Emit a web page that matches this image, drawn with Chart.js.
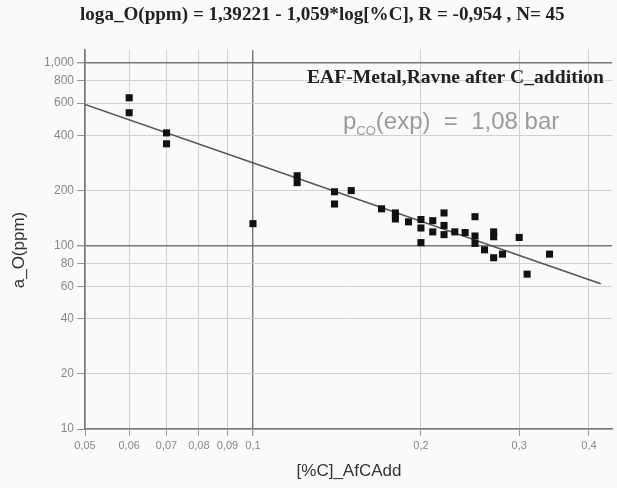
<!DOCTYPE html>
<html>
<head>
<meta charset="utf-8">
<script src="https://cdn.jsdelivr.net/npm/chart.js@4.4.0/dist/chart.umd.min.js"></script>
<style>
  html, body { margin: 0; padding: 0; background: #fafafa; }
  #wrap { width: 617px; height: 488px; }
</style>
</head>
<body>
<div id="wrap"><canvas id="grafico" width="617" height="488"></canvas></div>
<script>
// measured points [%C] vs a_O (ppm)
const carbon = [0.06, 0.06, 0.07, 0.07, 0.1, 0.12, 0.12, 0.14, 0.14, 0.15,
  0.17, 0.18, 0.18, 0.19, 0.2, 0.2, 0.2, 0.21, 0.21, 0.22,
  0.22, 0.22, 0.23, 0.24, 0.25, 0.25, 0.25, 0.26, 0.27, 0.27,
  0.27, 0.28, 0.3, 0.31, 0.34];
const oxygen = [642, 532, 413, 360, 132, 241, 221, 197, 169, 200,
  159, 151, 140, 135, 139, 125, 104, 137, 119, 151,
  129, 115, 119, 118, 144, 113, 103, 95, 119, 112,
  86, 90, 111, 70, 90];

// regression line end points
const fitCarbon = [0.05, 0.42];
const fitOxygen = [590, 62];

const xTicks = [0.05, 0.06, 0.07, 0.08, 0.09, 0.1, 0.2, 0.3, 0.4];
const xTickLabels = ['0,05', '0,06', '0,07', '0,08', '0,09', '0,1', '0,2', '0,3', '0,4'];
const yTicks = [10, 20, 40, 60, 80, 100, 200, 400, 600, 800, 1000];
const yTickLabels = ['10', '20', '40', '60', '80', '100', '200', '400', '600', '800', '1,000'];

const titulo = 'loga_O(ppm) = 1,39221 - 1,059*log[%C], R = -0,954 , N= 45';
const legenda = 'EAF-Metal,Ravne after C_addition';

function textoAjustado(ctx, texto, x0, x1, y, familia, peso) {
  ctx.font = peso + ' 20px ' + familia;
  const w = ctx.measureText(texto).width;
  const tam = 20 * (x1 - x0) / w;
  ctx.font = peso + ' ' + tam.toFixed(2) + 'px ' + familia;
  ctx.textAlign = 'left';
  ctx.textBaseline = 'middle';
  ctx.fillText(texto, x0, y);
}

const camadaTexto = {
  id: 'camadaTexto',
  afterDraw(chart) {
    const ctx = chart.ctx;
    ctx.save();
    ctx.fillStyle = '#222';
    textoAjustado(ctx, titulo, 80, 565, 15, '"Liberation Serif", serif', 'bold');
    textoAjustado(ctx, legenda, 307, 604, 78, '"Liberation Serif", serif', 'bold');

    // p_CO(exp) = 1,08 bar
    ctx.fillStyle = '#9a9a9a';
    ctx.textAlign = 'left';
    ctx.textBaseline = 'alphabetic';
    let x = 343;
    ctx.font = '24px "Liberation Sans", sans-serif';
    ctx.fillText('p', x, 129);
    x += ctx.measureText('p').width;
    ctx.font = '13px "Liberation Sans", sans-serif';
    ctx.fillText('CO', x, 135);
    x += ctx.measureText('CO').width;
    ctx.font = '24px "Liberation Sans", sans-serif';
    ctx.fillText('(exp)  =  1,08 bar', x, 129);

    // axis titles
    ctx.fillStyle = '#333';
    ctx.font = '17px "Liberation Sans", sans-serif';
    ctx.textAlign = 'center';
    ctx.textBaseline = 'middle';
    ctx.fillText('[%C]_AfCAdd', 349, 471);
    ctx.translate(19, 250);
    ctx.rotate(-Math.PI / 2);
    ctx.fillText('a_O(ppm)', 0, 0);
    ctx.restore();
  }
};

const linhaForte = (v) => v === 0.1 || v === 100 || v === 1000;

new Chart(document.getElementById('grafico'), {
  type: 'scatter',
  data: {
    datasets: [
      {
        label: 'a_O',
        data: carbon.map((c, i) => ({ x: c, y: oxygen[i] })),
        pointStyle: 'rect',
        pointRadius: 5,
        pointBorderWidth: 0,
        backgroundColor: '#111',
        borderColor: '#111'
      },
      {
        type: 'line',
        label: 'fit',
        data: fitCarbon.map((c, i) => ({ x: c, y: fitOxygen[i] })),
        borderColor: '#555',
        borderWidth: 1.6,
        pointRadius: 0,
        fill: false
      }
    ]
  },
  options: {
    responsive: false,
    animation: false,
    layout: { padding: { top: 50, right: 3, left: 0, bottom: 0 } },
    plugins: { legend: { display: false }, tooltip: { enabled: false } },
    scales: {
      x: {
        type: 'logarithmic',
        min: 0.05,
        max: 0.44,
        afterBuildTicks: (s) => { s.ticks = xTicks.map(v => ({ value: v })); },
        afterFit: (s) => { s.height = 59; },
        ticks: {
          autoSkip: false,
          maxRotation: 0,
          padding: 3,
          color: '#888',
          font: { size: 11, family: '"Liberation Sans", sans-serif' },
          callback: (v, i) => xTickLabels[i]
        },
        grid: {
          color: (c) => c.tick && linhaForte(c.tick.value) ? '#777' : '#d0d0d0',
          borderDash: (c) => c.tick && linhaForte(c.tick.value) ? [] : [2, 3],
          lineWidth: (c) => c.tick && linhaForte(c.tick.value) ? 1.4 : 1,
          tickLength: 7,
          tickColor: '#999',
          tickBorderDash: []
        },
        border: { color: '#777', width: 1.6 }
      },
      y: {
        type: 'logarithmic',
        min: 10,
        max: 1170,
        afterBuildTicks: (s) => { s.ticks = yTicks.map(v => ({ value: v })); },
        afterFit: (s) => { s.width = 85; },
        ticks: {
          autoSkip: false,
          padding: 3,
          color: '#888',
          font: { size: 12, family: '"Liberation Sans", sans-serif' },
          callback: (v, i) => yTickLabels[i]
        },
        grid: {
          color: (c) => c.tick && linhaForte(c.tick.value) ? '#777' : '#d0d0d0',
          borderDash: (c) => c.tick && linhaForte(c.tick.value) ? [] : [2, 3],
          lineWidth: (c) => c.tick && linhaForte(c.tick.value) ? 1.4 : 1,
          tickLength: 8,
          tickColor: '#999',
          tickBorderDash: []
        },
        border: { color: '#777', width: 1.6 }
      }
    }
  },
  plugins: [camadaTexto]
});
</script>
</body>
</html>
